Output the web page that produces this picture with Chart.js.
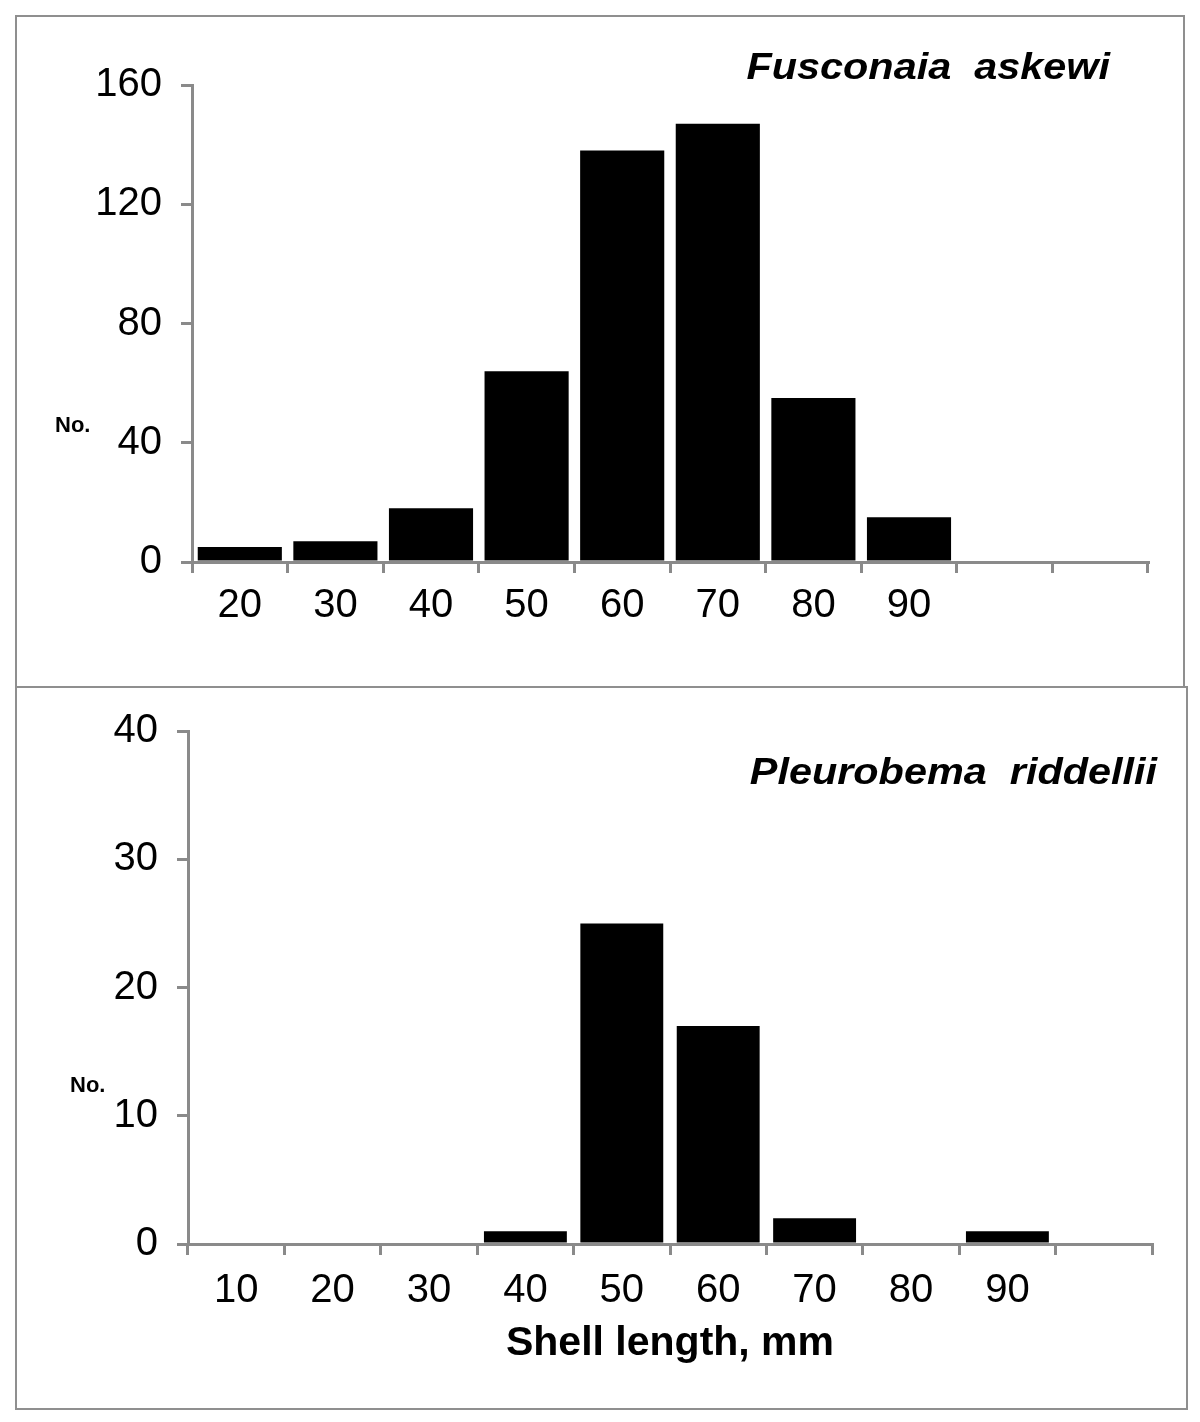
<!DOCTYPE html>
<html lang="en">
<head>
<meta charset="UTF-8">
<title>Shell length distributions</title>
<style>
    body {
        margin: 0;
        background: #fff;
        font-family: "Liberation Sans", Arial, sans-serif;
    }
    .panel {
        position: absolute;
        box-sizing: border-box;
        border: 2px solid #8f8f8f;
        background: #fff;
    }
    #top-panel { left: 15px; top: 15px; width: 1170px; height: 673px; }
    #bottom-panel { left: 15px; top: 686px; width: 1173px; height: 724px; }
    canvas { display: block; }
</style>
</head>
<body>
<div class="panel" id="top-panel"><canvas id="askewiChart" width="1166" height="669"></canvas></div>
<div class="panel" id="bottom-panel"><canvas id="riddelliiChart" width="1169" height="720"></canvas></div>

<script src="https://cdn.jsdelivr.net/npm/chart.js"></script>
<script>
    // Fusconaia askewi
    const askewiBins = ['20', '30', '40', '50', '60', '70', '80', '90', '', ''];
    const askewiCounts = [5, 7, 18, 64, 138, 147, 55, 15, null, null];

    // Pleurobema riddellii
    const riddelliiBins = ['10', '20', '30', '40', '50', '60', '70', '80', '90', ''];
    const riddelliiCounts = [0, 0, 0, 1, 25, 17, 2, 0, 1, null];

    const askewiTicks = { max: 160, step: 40 };
    const riddelliiTicks = { max: 40, step: 10 };

    const axisGray = '#8a8a8a';
    const fontFamily = '"Liberation Sans", Arial, sans-serif';

    // species name and the (unreadable) y label are drawn straight onto the canvas
    const panelText = {
        id: 'panelText',
        afterDraw(chart, args, opts) {
            const ctx = chart.ctx;
            ctx.save();
            ctx.fillStyle = '#000';
            ctx.textBaseline = 'alphabetic';

            ctx.save();
            ctx.translate(opts.titleX, opts.titleY);
            ctx.scale(1.15, 1);
            ctx.textAlign = 'right';
            ctx.font = 'italic bold 36px ' + fontFamily;
            ctx.fillText(opts.title, 0, 0);
            ctx.restore();

            ctx.textAlign = 'left';
            ctx.font = 'bold 22px ' + fontFamily;
            ctx.fillText(opts.yLabel, opts.yLabelX, opts.yLabelY);
            ctx.restore();
        }
    };

    function makeChart(id, labels, values, ticks, cfg) {
        const ctx = document.getElementById(id).getContext('2d');
        return new Chart(ctx, {
            type: 'bar',
            data: {
                labels: labels,
                datasets: [{
                    data: values,
                    backgroundColor: '#000',
                    borderWidth: 0,
                    barPercentage: cfg.barPct,
                    categoryPercentage: 1.0
                }]
            },
            plugins: [panelText],
            options: {
                responsive: false,
                animation: false,
                layout: { padding: cfg.padding },
                plugins: {
                    legend: { display: false },
                    tooltip: { enabled: false },
                    panelText: cfg.text
                },
                scales: {
                    x: {
                        grid: {
                            drawOnChartArea: false,
                            drawTicks: true,
                            tickLength: 11,
                            color: axisGray,
                            lineWidth: 3
                        },
                        border: { color: axisGray, width: 3 },
                        ticks: {
                            color: '#000',
                            padding: cfg.xPad,
                            maxRotation: 0,
                            autoSkip: false,
                            font: { family: fontFamily, size: 40 }
                        },
                        title: cfg.xTitle,
                        afterFit: s => { s.height = cfg.xHeight; }
                    },
                    y: {
                        min: 0,
                        max: ticks.max,
                        grid: {
                            drawOnChartArea: false,
                            drawTicks: true,
                            tickLength: 11,
                            color: axisGray,
                            lineWidth: 3
                        },
                        border: { color: axisGray, width: 3 },
                        ticks: {
                            stepSize: ticks.step,
                            color: '#000',
                            padding: 19,
                            font: { family: fontFamily, size: 40 }
                        },
                        afterFit: s => { s.width = cfg.yWidth; }
                    }
                }
            }
        });
    }

    makeChart('askewiChart', askewiBins, askewiCounts, askewiTicks, {
        barPct: 0.88,
        padding: { left: 0, top: 68, right: 35, bottom: 44 },
        yWidth: 175,
        xHeight: 80,
        xPad: 9,
        xTitle: { display: false },
        text: {
            title: 'Fusconaia  askewi',
            titleX: 1093, titleY: 62,
            yLabel: 'No.', yLabelX: 38, yLabelY: 415
        }
    });

    makeChart('riddelliiChart', riddelliiBins, riddelliiCounts, riddelliiTicks, {
        barPct: 0.86,
        padding: { left: 0, top: 37, right: 34, bottom: 40 },
        yWidth: 171,
        xHeight: 124,
        xPad: 12,
        xTitle: {
            display: true,
            text: 'Shell length, mm',
            color: '#000',
            padding: 0,
            font: { family: fontFamily, size: 41, weight: 'bold' }
        },
        text: {
            title: 'Pleurobema  riddellii',
            titleX: 1140, titleY: 96,
            yLabel: 'No.', yLabelX: 53, yLabelY: 404
        }
    });
</script>
</body>
</html>
